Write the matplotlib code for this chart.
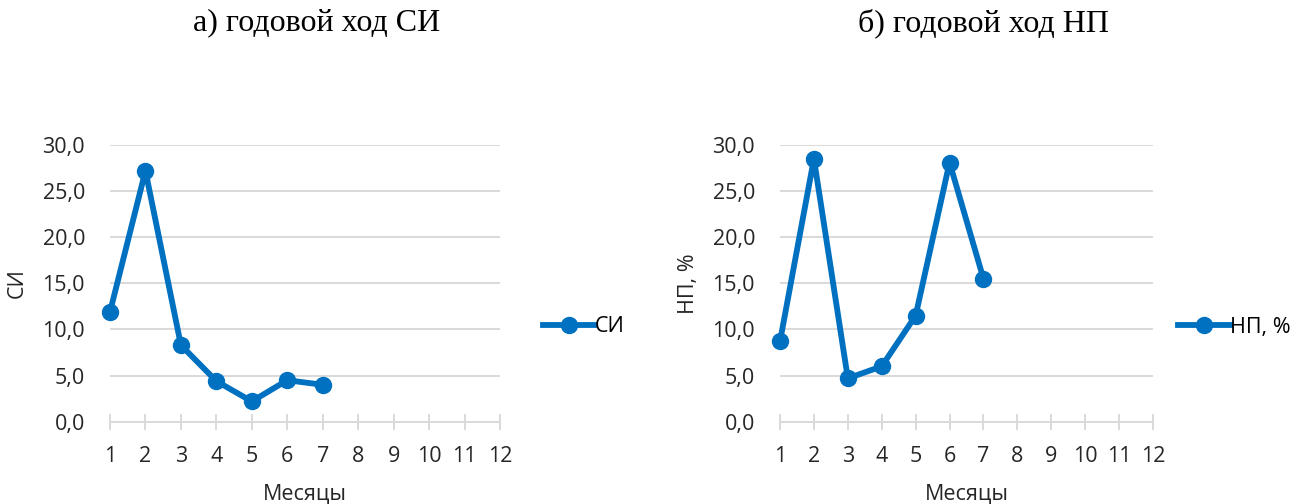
import matplotlib
matplotlib.use("Agg")
import matplotlib.pyplot as plt
from matplotlib.ticker import FuncFormatter

months = list(range(1, 13))
months_data = [1, 2, 3, 4, 5, 6, 7]
si_values = [11.9, 27.2, 8.3, 4.4, 2.2, 4.5, 4.0]
np_values = [8.7, 28.5, 4.7, 6.0, 11.5, 28.1, 15.5]
y_ticks = [0, 5, 10, 15, 20, 25, 30]

titles = ["а) годовой ход СИ", "б) годовой ход НП"]
ylabels = ["СИ", "НП, %"]
series_names = ["СИ", "НП, %"]
xlabel = "Месяцы"

W, H = 1296, 504
fig = plt.figure(figsize=(W / 100, H / 100), dpi=100)
sans = ["Open Sans", "DejaVu Sans"]
serif = ["Liberation Serif", "DejaVu Serif"]
color = "#0070C0"
grid_c = "#D9D9D9"
txt_c = "#262626"
fs = 15.5

panels = [
    dict(x0=110, x1=500, y0=421.7, y1=145, data=si_values, title_x=317, leg_x=543, ylab_x=28),
    dict(x0=780, x1=1153, y0=421.7, y1=145, data=np_values, title_x=983, leg_x=1178, ylab_x=699),
]

fmt = FuncFormatter(lambda v, p: f"{v:.1f}".replace(".", ","))

for i, p in enumerate(panels):
    ax = fig.add_axes([p["x0"] / W, 1 - p["y0"] / H, (p["x1"] - p["x0"]) / W, (p["y0"] - p["y1"]) / H])
    ax.plot(months_data, p["data"], color=color, lw=4.2, marker="o", ms=11.5,
            clip_on=False, zorder=3, label=series_names[i])
    ax.set_xlim(1, 12)
    ax.set_ylim(0, 30)
    ax.set_xticks(months)
    ax.set_yticks(y_ticks)
    ax.yaxis.set_major_formatter(fmt)
    for s in ["top", "right", "left"]:
        ax.spines[s].set_visible(False)
    ax.spines["bottom"].set_color(grid_c)
    ax.spines["bottom"].set_linewidth(1.4)
    ax.grid(axis="y", color=grid_c, lw=1.4)
    ax.set_axisbelow(True)
    ax.tick_params(axis="y", length=0, pad=18, labelsize=fs, labelcolor=txt_c)
    ax.tick_params(axis="x", direction="inout", length=11, width=1.4, color=grid_c,
                   pad=12, labelsize=fs, labelcolor=txt_c)
    for lab in ax.get_xticklabels() + ax.get_yticklabels():
        lab.set_family(sans)
    ax.set_ylabel(ylabels[i], family=sans, fontsize=fs, color=txt_c)
    ax.yaxis.set_label_coords((p["ylab_x"] - p["x0"]) / (p["x1"] - p["x0"]), 0.5)
    ax.set_xlabel(xlabel, family=sans, fontsize=fs, color=txt_c, labelpad=12)
    fig.text(p["title_x"] / W, 1 - 23 / H, titles[i], family=serif, fontsize=23,
             ha="center", va="center", color="black")
    leg = ax.legend(loc="center left", bbox_to_anchor=(p["leg_x"] / W, 1 - 327 / H),
                    bbox_transform=fig.transFigure, frameon=False, handlelength=2.4,
                    handletextpad=0.0, borderpad=0, borderaxespad=0,
                    prop={"family": sans, "size": fs})
    for t in leg.get_texts():
        t.set_color("black")

fig.savefig("out.png", dpi=100)
